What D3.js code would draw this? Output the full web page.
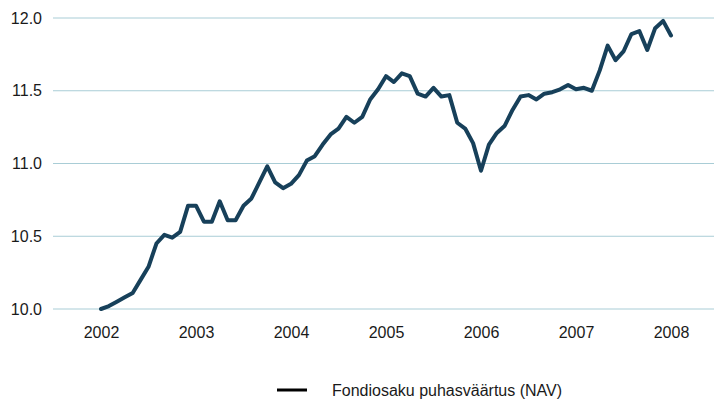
<!DOCTYPE html>
<html>
<head>
<meta charset="utf-8">
<script src="https://cdn.jsdelivr.net/npm/d3@7"></script>
<style>
  html, body { margin: 0; padding: 0; background: #fff; }
  svg { display: block; }
  text { font-family: "Liberation Sans", Arial, sans-serif; fill: #1a1a1a; }
</style>
</head>
<body>
<svg id="chart" width="714" height="400"></svg>
<script>
// Monthly NAV, Jan 2002 .. Jan 2008
const values = [
  10.00, 10.02, 10.05, 10.08, 10.11, 10.20, 10.29, 10.45, 10.51, 10.49, 10.53, 10.71,
  10.71, 10.60, 10.60, 10.74, 10.61, 10.61, 10.71, 10.76, 10.87, 10.98, 10.87, 10.83,
  10.86, 10.92, 11.02, 11.05, 11.13, 11.20, 11.24, 11.32, 11.28, 11.32, 11.44, 11.51,
  11.60, 11.56, 11.62, 11.60, 11.48, 11.46, 11.52, 11.46, 11.47, 11.28, 11.24, 11.14,
  10.95, 11.13, 11.21, 11.26, 11.37, 11.46, 11.47, 11.44, 11.48, 11.49, 11.51, 11.54,
  11.51, 11.52, 11.50, 11.64, 11.81, 11.71, 11.77, 11.89, 11.91, 11.78, 11.93, 11.98,
  11.88
];
const yearLabels = ["2002", "2003", "2004", "2005", "2006", "2007", "2008"];
const yTicks = [10.0, 10.5, 11.0, 11.5, 12.0];
const seriesName = "Fondiosaku puhasväärtus (NAV)";

const svg = d3.select("#chart");
const gridLeft = 53, gridRight = 714;

const x = d3.scaleLinear().domain([0, 72]).range([101, 671]);
const y = d3.scaleLinear().domain([10, 12]).range([309, 18]);

// gridlines
svg.append("g").selectAll("line").data(yTicks).join("line")
  .attr("x1", gridLeft).attr("x2", gridRight)
  .attr("y1", d => y(d)).attr("y2", d => y(d))
  .attr("stroke", "#a9cdd6").attr("stroke-width", 1);

// y axis labels
const yAxis = d3.axisLeft(y).tickValues(yTicks).tickFormat(d3.format(".1f")).tickSize(0).tickPadding(0);
const gy = svg.append("g").attr("transform", "translate(42,0)").call(yAxis);
gy.select(".domain").remove();
gy.selectAll("text").attr("font-size", 16).attr("fill", "#1a1a1a")
  .attr("font-family", "'Liberation Sans', Arial, sans-serif");

// x axis labels
const xAxis = d3.axisBottom(x).tickValues(yearLabels.map((_, i) => i * 12))
  .tickFormat((d, i) => yearLabels[i]).tickSize(0).tickPadding(0);
const gx = svg.append("g").attr("transform", "translate(0,327)").call(xAxis);
gx.select(".domain").remove();
gx.selectAll("text").attr("font-size", 16).attr("fill", "#1a1a1a")
  .attr("font-family", "'Liberation Sans', Arial, sans-serif");

// line
const line = d3.line().x((d, i) => x(i)).y(d => y(d));
svg.append("path").datum(values)
  .attr("d", line)
  .attr("fill", "none")
  .attr("stroke", "#17405a")
  .attr("stroke-width", 4)
  .attr("stroke-linejoin", "round")
  .attr("stroke-linecap", "round");

// legend
const lg = svg.append("g");
lg.append("line").attr("x1", 277).attr("x2", 307).attr("y1", 390).attr("y2", 390)
  .attr("stroke", "#000").attr("stroke-width", 3);
lg.append("text").attr("x", 332).attr("y", 396).attr("font-size", 16).text(seriesName);
</script>
</body>
</html>
